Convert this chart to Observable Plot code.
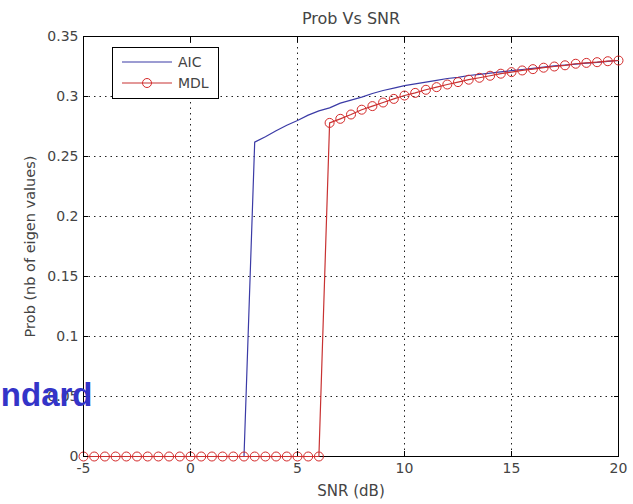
<!DOCTYPE html>
<html><head><meta charset="utf-8">
<script src="https://cdn.jsdelivr.net/npm/d3@7"></script>
<script src="https://cdn.jsdelivr.net/npm/@observablehq/plot@0.6"></script>
<style>
body{margin:0;background:#fff;}
#wrap{position:relative;width:633px;height:504px;overflow:hidden;}
#legend{position:absolute;left:112px;top:47px;}
</style></head><body><div id="wrap"></div>
<script>
const titleText = "Prob Vs SNR";
const xLabel = "SNR (dB)";
const yLabel = "Prob (nb of eigen values)";
const overlayText = "ndard";
const seriesNames = ["AIC", "MDL"];
const xTicks = [-5, 0, 5, 10, 15, 20];
const yTicks = [0, 0.05, 0.1, 0.15, 0.2, 0.25, 0.3, 0.35];

const snr = [-5,-4.5,-4,-3.5,-3,-2.5,-2,-1.5,-1,-0.5,0,0.5,1,1.5,2,2.5,3,3.5,4,4.5,5,5.5,6,6.5,7,7.5,8,8.5,9,9.5,10,10.5,11,11.5,12,12.5,13,13.5,14,14.5,15,15.5,16,16.5,17,17.5,18,18.5,19,19.5,20];
const aic = [0,0,0,0,0,0,0,0,0,0,0,0,0,0,0,0,
  0.262,0.2665,0.2715,0.276,0.280,0.2845,0.288,0.2905,0.2945,0.297,
  0.2995,0.3025,0.305,0.307,0.309,0.3105,0.312,0.3135,0.315,0.316,
  0.3175,0.3185,0.3195,0.3205,0.3215,0.3225,0.3235,0.3245,0.3255,0.3262,
  0.327,0.3278,0.3285,0.3292,0.33];
const mdl = [0,0,0,0,0,0,0,0,0,0,0,0,0,0,0,0,0,0,0,0,0,0,0,
  0.278,0.2814,0.285,0.289,0.292,0.295,0.298,0.3008,0.303,0.3056,
  0.3078,0.31,0.312,0.314,0.3156,0.3173,0.319,0.3203,0.3217,0.3228,
  0.324,0.325,0.326,0.3273,0.328,0.3286,0.3294,0.33];

const colors = {AIC: "#3b3ba6", MDL: "#c83232"};
const rows = snr.map((s, i) => ({snr: s, aic: aic[i], mdl: mdl[i]}));

const chart = Plot.plot({
  width: 633, height: 504,
  marginLeft: 83, marginRight: 15, marginTop: 36, marginBottom: 48,
  style: {fontFamily: "'DejaVu Sans', sans-serif", fontSize: "14px", color: "#000", background: "#fff"},
  x: {domain: [-5, 20]},
  y: {domain: [0, 0.35]},
  marks: [
    Plot.gridX(xTicks.slice(1, -1), {stroke: "#222", strokeOpacity: 1, strokeDasharray: "1.5,4"}),
    Plot.gridY(yTicks.slice(1, -1), {stroke: "#222", strokeOpacity: 1, strokeDasharray: "1.5,4"}),
    Plot.frame({stroke: "#000"}),
    Plot.line(rows, {x: "snr", y: "aic", stroke: colors.AIC, strokeWidth: 1.2}),
    Plot.line(rows, {x: "snr", y: "mdl", stroke: colors.MDL, strokeWidth: 1.2}),
    Plot.dot(rows, {x: "snr", y: "mdl", r: 4.5, stroke: "#d42a2a", fill: "none", strokeWidth: 1}),
    Plot.axisX(xTicks, {anchor: "bottom", tickSize: -5, tickPadding: 12, label: null, fill: "#444", tickFormat: d => String(d)}),
    Plot.axisX(xTicks, {anchor: "top", tickSize: -5, fill: "none", label: null}),
    Plot.axisY(yTicks, {anchor: "left", tickSize: -5, tickPadding: 10, label: null, fill: "#444", tickFormat: d => String(d)}),
    Plot.axisY(yTicks, {anchor: "right", tickSize: -5, fill: "none", label: null}),
    Plot.text([titleText], {frameAnchor: "top", dy: -18, lineAnchor: "middle", fontSize: 16, fill: "#444"}),
    Plot.text([xLabel], {frameAnchor: "bottom", dy: 35, lineAnchor: "middle", fontSize: 15, fill: "#444"}),
    Plot.text([yLabel], {frameAnchor: "left", dx: -53, rotate: -90, textAnchor: "middle", lineAnchor: "middle", fontSize: 14.5, fill: "#444"}),
    Plot.text([overlayText], {frameAnchor: "bottom-left", dx: 9, dy: -61, textAnchor: "end", lineAnchor: "middle",
      fontSize: 33, fontWeight: "bold", fontFamily: "'Liberation Sans', Arial, sans-serif", fill: "#3434c8"})
  ]
});
document.getElementById("wrap").appendChild(chart);

// legend (inside the axes, like the original)
const lg = d3.select("#wrap").append("svg").attr("id", "legend")
  .attr("width", 108).attr("height", 53)
  .style("font-family", "'DejaVu Sans', sans-serif").style("font-size", "14px");
lg.append("rect").attr("x", 0.5).attr("y", 0.5).attr("width", 106).attr("height", 51)
  .attr("fill", "#fff").attr("stroke", "#000");
const ly = [15, 36];
seriesNames.forEach((name, i) => {
  lg.append("line").attr("x1", 10).attr("x2", 60).attr("y1", ly[i]).attr("y2", ly[i])
    .attr("stroke", colors[name]).attr("stroke-width", 1.2);
  if (name === "MDL") lg.append("circle").attr("cx", 35).attr("cy", ly[i]).attr("r", 4.5)
    .attr("fill", "none").attr("stroke", "#d42a2a");
  lg.append("text").attr("x", 66).attr("y", ly[i]).attr("dy", "0.36em").attr("fill", "#444").text(name);
});
</script>
</body></html>
